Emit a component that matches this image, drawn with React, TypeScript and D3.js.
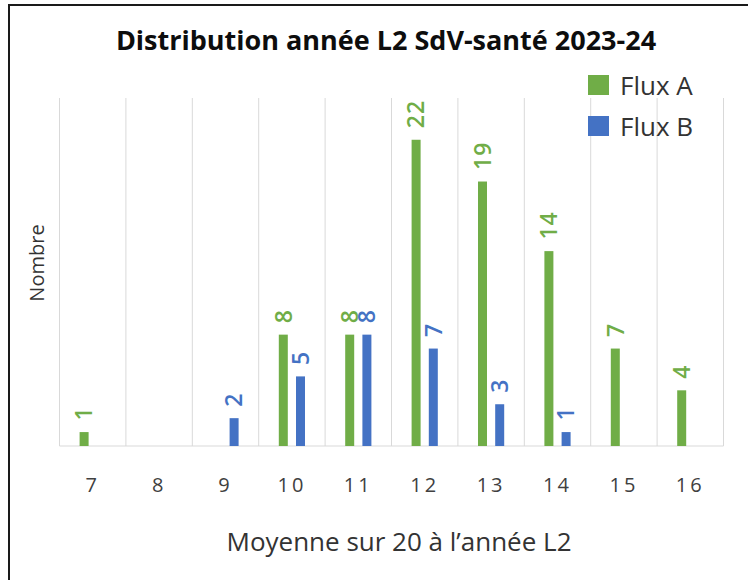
import React, { useEffect, useRef } from "react";
import * as d3 from "d3";

const categories = ["7", "8", "9", "10", "11", "12", "13", "14", "15", "16"];
const fluxA = [1, null, null, 8, 8, 22, 19, 14, 7, 4];
const fluxB = [null, null, 2, 5, 8, 7, 3, 1, null, null];
const seriesNames = ["Flux A", "Flux B"];
const seriesColors = ["#70AD47", "#4472C4"];

const FONT = "'Open Sans', sans-serif";

function App() {
  const ref = useRef<SVGSVGElement>(null);

  useEffect(() => {
    const width = 748;
    const height = 580;
    const margin = { top: 98, left: 59.5, bottom: 134, right: 24.5 };

    const svg = d3.select(ref.current);
    svg.selectAll("*").remove();

    svg.append("rect")
      .attr("width", width).attr("height", height).attr("fill", "#fff");

    // cadre (bords droit et bas hors image)
    svg.append("rect")
      .attr("x", 9).attr("y", 5)
      .attr("width", 760).attr("height", 600)
      .attr("fill", "none").attr("stroke", "#1a1a1a").attr("stroke-width", 2);

    const x = d3.scaleBand()
      .domain(categories)
      .range([margin.left, width - margin.right])
      .padding(0);

    const y = d3.scaleLinear()
      .domain([0, 25])
      .range([height - margin.bottom, margin.top]);

    const inner = d3.scalePoint()
      .domain(seriesNames)
      .range([x.bandwidth() / 2 - 8.6, x.bandwidth() / 2 + 8.6]);

    const barW = 9;

    // grille verticale
    const grid = svg.append("g").attr("stroke", "#d9d9d9").attr("stroke-width", 1);
    const edges = categories.map(c => x(c) as number).concat([width - margin.right]);
    grid.selectAll("line.v")
      .data(edges)
      .enter()
      .append("line")
      .attr("x1", d => d).attr("x2", d => d)
      .attr("y1", y(25)).attr("y2", y(0));
    grid.append("line")
      .attr("x1", margin.left).attr("x2", width - margin.right)
      .attr("y1", y(0)).attr("y2", y(0));

    // axe x
    const xAxis = svg.append("g")
      .attr("transform", `translate(0, ${y(0)})`)
      .call(d3.axisBottom(x).tickSize(0).tickPadding(0));
    xAxis.select(".domain").remove();
    xAxis.selectAll("text")
      .attr("y", 46)
      .attr("dy", 0)
      .attr("fill", "#404040")
      .style("font-family", FONT)
      .style("font-size", "20px")
      .style("letter-spacing", "3px");

    const series = [fluxA, fluxB];
    series.forEach((vals, si) => {
      const rows = categories
        .map((c, i) => ({ cat: c, value: vals[i] }))
        .filter(d => d.value != null) as { cat: string; value: number }[];
      const cx = (d: { cat: string }) =>
        (x(d.cat) as number) + (inner(seriesNames[si]) as number);

      svg.append("g")
        .attr("fill", seriesColors[si])
        .selectAll("rect")
        .data(rows)
        .enter()
        .append("rect")
        .attr("x", d => cx(d) - barW / 2)
        .attr("y", d => y(d.value))
        .attr("width", barW)
        .attr("height", d => y(0) - y(d.value));

      svg.append("g")
        .selectAll("text")
        .data(rows)
        .enter()
        .append("text")
        .attr("transform", d => `translate(${cx(d)}, ${y(d.value) - 11.5}) rotate(-90)`)
        .attr("dy", "0.36em")
        .attr("fill", seriesColors[si])
        .style("font-family", FONT)
        .style("font-size", "23px")
        .style("font-weight", 600)
        .style("letter-spacing", "1px")
        .text(d => d.value);
    });

    // titre
    svg.append("text")
      .attr("x", 386).attr("y", 49.5)
      .attr("text-anchor", "middle")
      .attr("fill", "#0d0d0d")
      .style("font-family", FONT)
      .style("font-weight", "bold")
      .style("font-size", "27px")
      .text("Distribution année L2 SdV-santé 2023-24");

    // titres des axes
    svg.append("text")
      .attr("x", 399).attr("y", 551)
      .attr("text-anchor", "middle")
      .attr("fill", "#333")
      .style("font-family", FONT)
      .style("font-size", "26px")
      .text("Moyenne sur 20 à l’année L2");

    svg.append("text")
      .attr("transform", "translate(37, 263) rotate(-90)")
      .attr("text-anchor", "middle")
      .attr("dy", "0.36em")
      .attr("fill", "#333")
      .style("font-family", FONT)
      .style("font-size", "20px")
      .text("Nombre");

    // légende
    const legend = svg.append("g")
      .selectAll("g")
      .data(seriesNames)
      .enter()
      .append("g")
      .attr("transform", (d, i) => `translate(588, ${75 + i * 41})`);
    legend.append("rect")
      .attr("width", 21).attr("height", 20)
      .attr("fill", (d, i) => seriesColors[i]);
    legend.append("text")
      .attr("x", 32).attr("y", 20)
      .attr("fill", "#333")
      .style("font-family", FONT)
      .style("font-size", "26px")
      .text(d => d);
  }, []);

  return (
    <svg
      ref={ref}
      width={748}
      height={580}
      style={{ position: "absolute", left: 0, top: 0, display: "block" }}
    />
  );
}

export default App;
